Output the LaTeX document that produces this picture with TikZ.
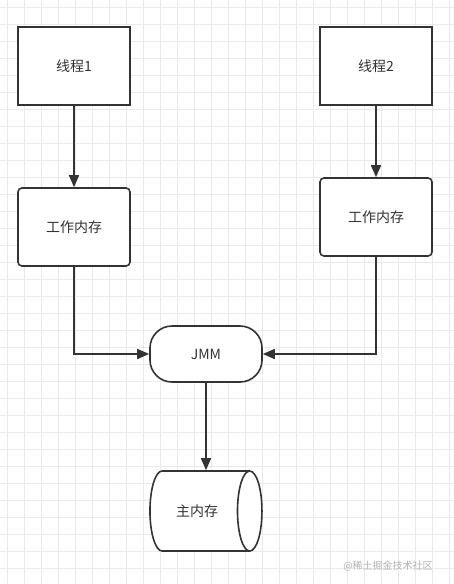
\documentclass[tikz,border=0pt]{standalone}
\usepackage{fontspec}
\newfontfamily\cjk{Noto Sans CJK SC}
\usetikzlibrary{arrows.meta,shapes.geometric}

\definecolor{ink}{HTML}{333333}
\definecolor{gridc}{HTML}{EAEAEA}
\tikzset{
    box/.style={draw=ink, line width=1.6pt, fill=white, minimum width=112pt, minimum height=78pt, font=\cjk\fontsize{14}{16}\selectfont, text=ink},
    wbox/.style={box, rounded corners=4pt},
    link/.style={draw=ink, line width=1.6pt, -{Triangle[length=12pt,width=10pt]}}
}

\begin{document}
\begin{tikzpicture}[x=1pt,y=-1pt]
    \useasboundingbox (0,0) rectangle (454,584);
    \fill[white] (0,0) rectangle (454,584);
    \foreach \i in {7,24,...,454} \draw[gridc, line width=0.8pt] (\i,0) -- (\i,584);
    \foreach \j in {7,24,...,584} \draw[gridc, line width=0.8pt] (0,\j) -- (454,\j);

    \node[box] (t1) at (74,66) {线程1};
    \node[box] (t2) at (376,66) {线程2};
    \node[wbox] (w1) at (74,227) {工作内存};
    \node[wbox] (w2) at (376,217) {工作内存};
    \node[box, rounded corners=22pt, minimum height=56pt] (jmm) at (206,354) {JMM};
    \node[box, cylinder, aspect=1.25, minimum width=80pt, minimum height=112pt, inner xsep=0pt] (mm) at (197,511) {主内存};

    \draw[link] (t1) -- (w1);
    \draw[link] (t2) -- (w2);
    \draw[link] (w1.south) |- (jmm.west);
    \draw[link] (w2.south) |- (jmm.east);
    \draw[link] (jmm) -- (jmm |- mm.north);

    \node[font=\cjk\fontsize{10}{12}\selectfont, text=black!30] (mark) at (388,566) {@稀土掘金技术社区};
\end{tikzpicture}
\end{document}
